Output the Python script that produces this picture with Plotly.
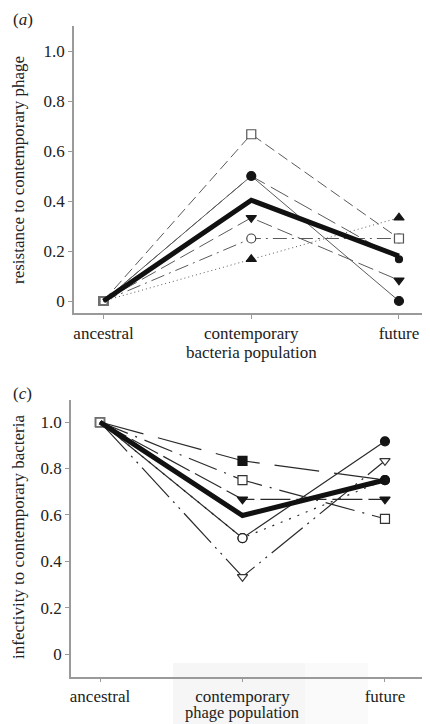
import plotly.graph_objects as go

# ---------------- data ----------------
x_cats = [0, 1, 2]
x_labels = ["ancestral", "contemporary", "future"]
y_ticks = [0, 0.2, 0.4, 0.6, 0.8, 1.0]
y_ticktext = ["0", "0.2", "0.4", "0.6", "0.8", "1.0"]

# panel (a): resistance to contemporary phage
a_open_square = [0, 0.667, 0.25]
a_filled_circle = [0, 0.5, 0.0]
a_hidden = [0, 0.5, 0.167]
a_tri_down = [0, 0.333, 0.083]
a_open_circle = [0, 0.25, 0.25]
a_tri_up = [0, 0.167, 0.333]
a_mean = [0, 0.403, 0.18]

# panel (c): infectivity to contemporary bacteria
c_filled_square = [1.0, 0.833, 0.75]
c_open_square = [1.0, 0.75, 0.583]
c_tri_down = [1.0, 0.667, 0.667]
c_circle = [1.0, 0.5, 0.917]
c_open_tri = [1.0, 0.333, 0.833]
c_dotted = [1.0, 0.5, 0.75]
c_mean = [1.0, 0.597, 0.75]

FONT = "Liberation Serif, Tinos, Times New Roman, DejaVu Serif, serif"
TXT = "#222222"
AX = "#9a9a9a"
ANC = "#6f6f6f"

# page body has an 8px margin: shift reference pixel positions accordingly
OFF = 8
W, H = 430 - OFF, 724 - OFF


def px(x):
    return (x - OFF) / W


def py(y):
    return 1 - (y - OFF) / H


fig = go.Figure()


def add_series(y, xa, ya, color, width, dash, symbols, fills, lines, msize=9):
    fig.add_trace(go.Scatter(
        x=x_cats, y=y, xaxis=xa, yaxis=ya, mode="lines+markers",
        line=dict(color=color, width=width, dash=dash),
        marker=dict(symbol=symbols, size=msize, color=fills,
                    line=dict(color=lines, width=1.2)),
        showlegend=False, hoverinfo="skip"))


K = "#151515"
Wh = "white"

# ---- panel (a) ----
ga = "#5a5a5a"
add_series(a_tri_up, "x", "y", ga, 1, "1px,3px", ["square-open", "triangle-up", "triangle-up"],
           [ANC, K, K], [ANC, K, K])
add_series(a_open_circle, "x", "y", ga, 1, "14px,5px,2px,5px", ["square-open", "circle", "circle"],
           [ANC, Wh, Wh], [ANC, "#444", "#444"])
add_series(a_tri_down, "x", "y", ga, 1, "16px,6px", ["square-open", "triangle-down", "triangle-down"],
           [ANC, K, K], [ANC, K, K])
add_series(a_hidden, "x", "y", ga, 1, "20px,7px", ["square-open", "circle", "circle"],
           [ANC, K, K], [ANC, K, K], msize=7)
add_series(a_filled_circle, "x", "y", ga, 1, "solid", ["square-open", "circle", "circle"],
           [ANC, K, K], [ANC, K, K])
add_series(a_open_square, "x", "y", ga, 1, "11px,5px", ["square-open", "square", "square"],
           [ANC, Wh, Wh], [ANC, "#555", "#555"])
fig.add_trace(go.Scatter(x=x_cats, y=a_mean, xaxis="x", yaxis="y", mode="lines",
                         line=dict(color="#111", width=5), showlegend=False, hoverinfo="skip"))

# ---- panel (c) ----
gc = "#2a2a2a"
add_series(c_dotted, "x2", "y2", gc, 1.2, "2px,7px", ["square-open", "circle", "circle"],
           [ANC, K, K], [ANC, K, K])
add_series(c_open_tri, "x2", "y2", gc, 1.2, "40px,6px,2px,6px,2px,6px", ["square-open", "triangle-down", "triangle-down"],
           [ANC, Wh, Wh], [ANC, "#333", "#333"])
add_series(c_circle, "x2", "y2", gc, 1.2, "solid", ["square-open", "circle", "circle"],
           [ANC, Wh, K], [ANC, "#222", K])
add_series(c_tri_down, "x2", "y2", gc, 1.2, "30px,6px", ["square-open", "triangle-down", "triangle-down"],
           [ANC, K, K], [ANC, K, K])
add_series(c_open_square, "x2", "y2", gc, 1.2, "30px,8px,2px,8px", ["square-open", "square", "square"],
           [ANC, Wh, Wh], [ANC, "#333", "#333"])
add_series(c_filled_square, "x2", "y2", gc, 1.2, "45px,15px", ["square-open", "square", "circle"],
           [ANC, K, K], [ANC, K, K])
fig.add_trace(go.Scatter(x=x_cats, y=c_mean, xaxis="x2", yaxis="y2", mode="lines",
                         line=dict(color="#111", width=5), showlegend=False, hoverinfo="skip"))

xcommon = dict(tickmode="array", tickvals=x_cats, ticktext=x_labels, showline=True,
               linecolor=AX, linewidth=1.5, ticks="outside", ticklen=4, tickcolor=AX,
               showgrid=False, zeroline=False, tickfont=dict(family=FONT, size=17, color=TXT),
               fixedrange=True)
ycommon = dict(tickmode="array", tickvals=y_ticks, ticktext=y_ticktext, showline=True,
               linecolor=AX, linewidth=1.5, ticks="outside", ticklen=4, tickcolor=AX,
               showgrid=False, zeroline=False, tickfont=dict(family=FONT, size=17, color=TXT),
               fixedrange=True)

font = dict(family=FONT, size=17, color=TXT)

fig.update_layout(
    width=W, height=H, margin=dict(l=0, r=0, t=0, b=0),
    paper_bgcolor="white", plot_bgcolor="rgba(0,0,0,0)",
    font=font,
    xaxis=dict(xcommon, domain=[px(74), 1.0], range=[-0.2, 2.21], anchor="y"),
    yaxis=dict(ycommon, domain=[py(313), py(26)], range=[-0.048, 1.1], anchor="x"),
    xaxis2=dict(xcommon, domain=[px(71), 1.0], range=[-0.2035, 2.316], anchor="y2", ticklen=3),
    yaxis2=dict(ycommon, domain=[py(677), py(400)], range=[-0.099, 1.095], anchor="x2"),
    shapes=[
        dict(type="rect", xref="paper", yref="paper", x0=px(173), x1=px(305), y0=0, y1=py(663),
             fillcolor="#f6f6f6", line=dict(width=0), layer="below"),
        dict(type="rect", xref="paper", yref="paper", x0=px(305), x1=px(368), y0=0, y1=py(663),
             fillcolor="#fafafa", line=dict(width=0), layer="below"),
    ],
    annotations=[
        dict(text="(<i>a</i>)", xref="paper", yref="paper", x=px(11), y=1.0,
             xanchor="left", yanchor="top", showarrow=False, font=font),
        dict(text="(<i>c</i>)", xref="paper", yref="paper", x=px(11), y=py(393),
             xanchor="left", yanchor="middle", showarrow=False, font=font),
        dict(text="resistance to contemporary phage", xref="paper", yref="paper", x=px(18), y=py(170),
             textangle=-90, xanchor="center", yanchor="middle", showarrow=False, font=font),
        dict(text="infectivity to contemporary bacteria", xref="paper", yref="paper", x=px(18), y=py(537),
             textangle=-90, xanchor="center", yanchor="middle", showarrow=False, font=font),
        dict(text="bacteria population", xref="x", yref="paper", x=1, y=py(352),
             xanchor="center", yanchor="middle", showarrow=False, font=font),
        dict(text="phage population", xref="x2", yref="paper", x=1, y=0,
             xanchor="center", yanchor="bottom", showarrow=False,
             font=dict(family=FONT, size=16.5, color=TXT)),
    ],
)

fig.write_html("out.html")
